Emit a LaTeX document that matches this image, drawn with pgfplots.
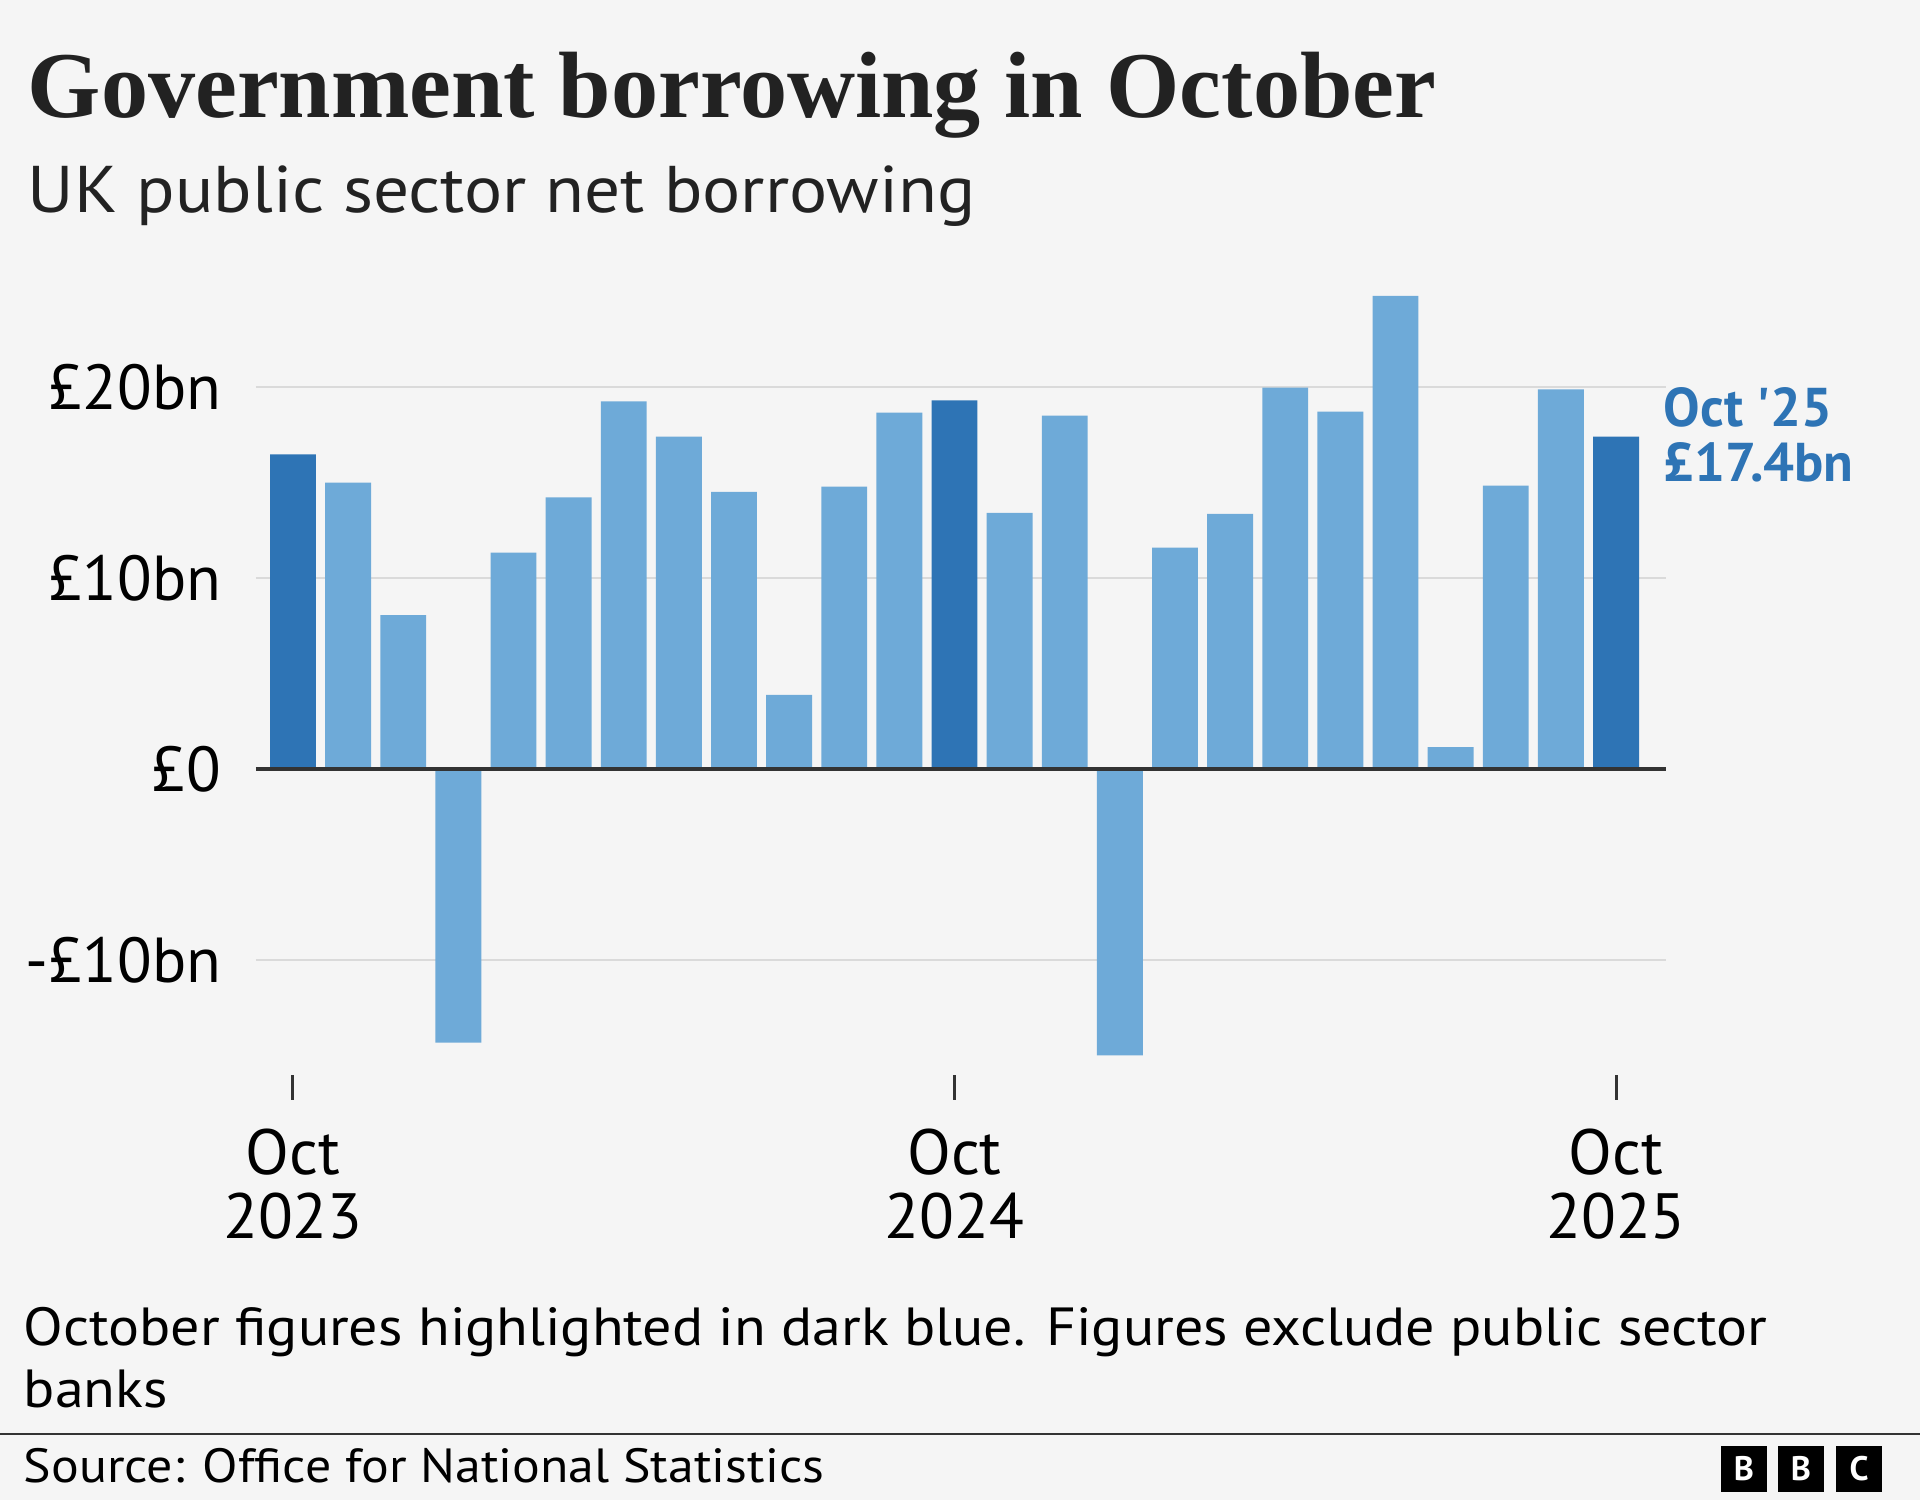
\documentclass[border=0pt]{standalone}
\usepackage{fontspec}
\usepackage{pgfplots}
\pgfplotsset{compat=1.18}
\setmainfont{PT Sans}
\newfontfamily\titlefont{Liberation Serif}
\newfontfamily\annfont{PT Sans}[Ligatures=TeXOff]
\newfontfamily\widefont{PT Sans}[FakeStretch=1.08]
\definecolor{bg}{HTML}{F5F5F5}
\definecolor{darkblue}{HTML}{2E74B5}
\definecolor{lightblue}{HTML}{6EAAD8}
\definecolor{gridc}{HTML}{DADADA}
\definecolor{txt}{HTML}{222222}
\definecolor{zeroc}{HTML}{333333}
\begin{document}
\begin{tikzpicture}[x=0.25pt,y=0.25pt]
\fill[bg] (0,0) rectangle (1920,1500);
\useasboundingbox (0,0) rectangle (1920,1500);
\node[anchor=base west,inner sep=0pt,text=txt,font={\titlefont\bfseries\fontsize{23.55}{28}\selectfont}] at (27,1382) {Government borrowing in October};
\node[anchor=base west,inner sep=0pt,text=txt,font={\widefont\fontsize{16.5}{19}\selectfont}] at (27,1287) {UK public sector net borrowing};
\begin{axis}[
  at={(64pt,106.35pt)}, anchor=south west,
  scale only axis, width=352.5pt, height=195.78pt,
  xmin=-0.671, xmax=24.907, ymin=-16, ymax=25,
  axis line style={draw=none},
  ytick={-10,0,10,20},
  yticklabels={-£10bn,£0,£10bn,£20bn},
  ymajorgrids, grid style={gridc, line width=0.6pt},
  xtick={0,12,24},
  xtick pos=bottom,
  xticklabels={{Oct\\2023},{Oct\\2024},{Oct\\2025}},
  xticklabel style={align=center, anchor=north, inner sep=0pt, yshift=-7.1pt, text=black, font={\fontsize{16}{16}\selectfont}},
  yticklabel style={anchor=east, inner sep=0pt, xshift=-2.25pt, text=black, font={\fontsize{15.9}{16}\selectfont}},
  ytick style={draw=none},
  xtick style={draw=zeroc, line width=0.75pt},
  tick align=outside, major tick length=6.25pt,
  ybar, bar width=0.834, bar shift=0pt,
  clip=false,
]
\addplot[fill=lightblue, draw=none] coordinates {
 (1,14.99) (2,8.06) (3,-14.32) (4,11.33) (5,14.22) (6,19.25) (7,17.40)
 (8,14.51) (9,3.88) (10,14.78) (11,18.66)
 (13,13.41) (14,18.50) (15,-14.99) (16,11.59) (17,13.36) (18,19.97)
 (19,18.71) (20,24.77) (21,1.15) (22,14.83) (23,19.87)
};
\addplot[fill=darkblue, draw=none] coordinates {(0,16.47) (12,19.30) (24,17.40)};
\draw[zeroc, line width=1pt] (axis cs:-0.671,0) -- (axis cs:24.907,0);
\end{axis}
\node[anchor=base west,inner sep=0pt,text=darkblue,font={\annfont\bfseries\fontsize{13.65}{16}\selectfont}] at (1663,1073) {Oct '25};
\node[anchor=base west,inner sep=0pt,text=darkblue,font={\annfont\bfseries\fontsize{13.65}{16}\selectfont}] at (1663,1018) {£17.4bn};
\node[anchor=base west,inner sep=0pt,text=black,font={\widefont\fontsize{13.42}{16}\selectfont}] at (23,154) {October figures highlighted in dark blue. Figures exclude public sector};
\node[anchor=base west,inner sep=0pt,text=black,font={\widefont\fontsize{13.42}{16}\selectfont}] at (23,92) {banks};
\draw[zeroc, line width=0.5pt] (0,66) -- (1920,66);
\node[anchor=base west,inner sep=0pt,text=black,font={\widefont\fontsize{12}{14}\selectfont}] at (23,17) {Source: Office for National Statistics};
\foreach \bx/\lt in {1721/B,1778/B,1836/C}{
  \fill[black] (\bx,8) rectangle ++(46,46);
  \node[text=white,inner sep=0pt,font={\bfseries\fontsize{8.5}{10}\selectfont}] at (\bx+23,31) {\lt};
}
\end{tikzpicture}
\end{document}
